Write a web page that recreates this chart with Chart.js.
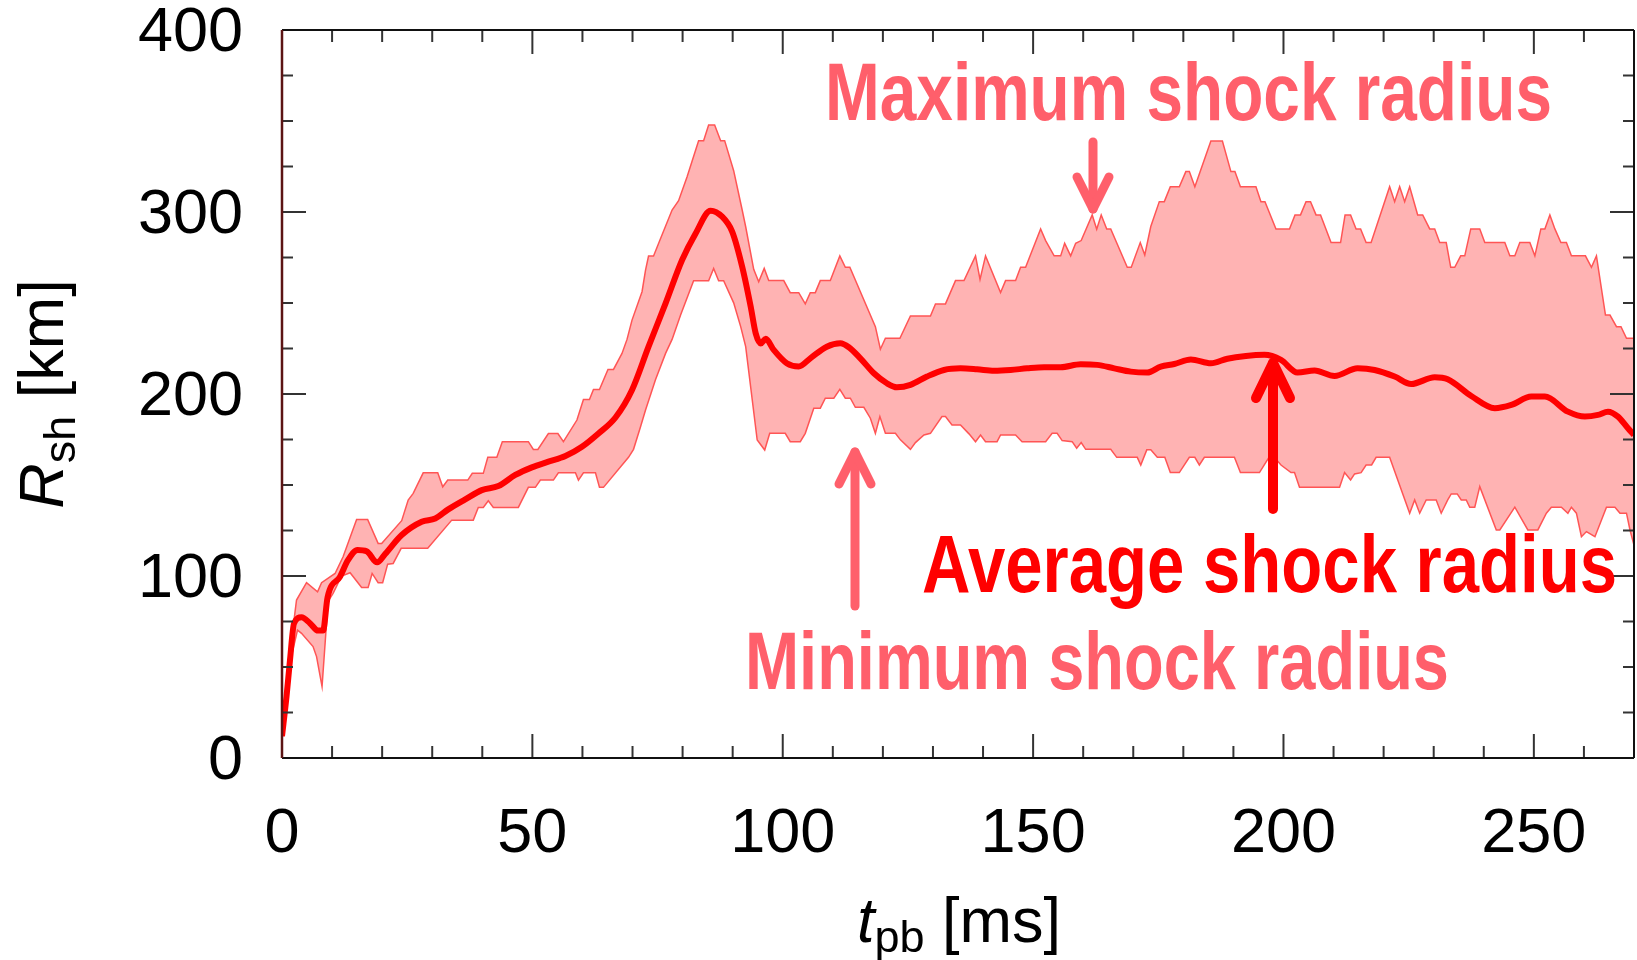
<!DOCTYPE html>
<html>
<head>
<meta charset="utf-8">
<script src="https://cdn.jsdelivr.net/npm/chart.js@4.4.0/dist/chart.umd.min.js"></script>
<style>
  html, body { margin: 0; padding: 0; background: #fff; }
  canvas { display: block; }
</style>
</head>
<body>
<canvas id="shock" width="1637" height="960"></canvas>
<script>
// shock radius [km] against post-bounce time [ms]
var tMax = [0.2, 1.5, 2.5, 2.9, 4.9, 7.1, 7.9, 10.6, 12.2, 14.9, 17.1, 19.2, 19.9, 23.9, 25.2, 26.2, 28.2, 31.1, 32.1, 33.1,
  37.1, 38.0, 40.2, 41.1, 42.9, 44.0, 49.2, 50.2, 51.1, 53.2, 55.1, 56.2, 58.9, 60.2, 61.4, 62.2, 63.4, 65.1, 66.2, 67.9,
  68.9, 69.9, 71.9, 72.6, 73.2, 74.2, 75.2, 77.9, 79.2, 80.9, 83.2, 84.2, 85.2, 86.4, 87.6, 88.4, 90.2, 91.9, 92.6, 94.2,
  95.2, 96.3, 97.2, 100.2, 101.5, 103.2, 104.5, 105.5, 106.5, 107.5, 109.5, 111.4, 112.5, 113.4, 118.5, 119.5, 120.5, 123.4, 125.5, 129.5,
  130.5, 132.5, 134.5, 136.2, 138.5, 139.4, 140.5, 143.5, 144.5, 146.5, 147.5, 148.5, 151.5, 152.5, 154.2, 155.5, 156.3, 157.5, 158.5, 159.6,
  161.8, 162.7, 163.6, 164.7, 165.5, 168.8, 169.6, 171.4, 172.3, 173.5, 175.2, 176.2, 177.4, 179.2, 180.5, 181.2, 182.3, 185.5, 187.8, 189.5,
  190.3, 191.4, 194.5, 195.5, 196.3, 198.5, 201.2, 202.3, 203.4, 204.5, 205.4, 206.5, 207.4, 209.5, 211.4, 212.3, 213.4, 214.5, 215.4, 216.5,
  217.5, 221.2, 222.2, 223.2, 224.2, 225.2, 226.8, 227.8, 229.2, 230.2, 231.2, 232.5, 233.4, 234.2, 235.4, 236.2, 237.4, 239.2, 240.2, 244.2,
  245.2, 246.2, 247.2, 249.2, 250.2, 251.4, 252.2, 253.2, 254.2, 255.4, 256.5, 257.5, 260.3, 261.5, 262.5, 264.3, 265.2, 266.5, 267.4, 268.5, 270];
var rMax = [12, 50, 78, 86.8, 96.3, 91.3, 96.3, 101.4, 110.6, 131.1, 131.1, 117.9, 117.9, 130.4, 141.7, 145.4, 156.7, 156.7, 149.0, 152.7,
  152.7, 156.4, 156.4, 165.2, 165.2, 173.8, 173.8, 169.5, 169.5, 178.3, 178.3, 173.8, 185.7, 197.0, 197.0, 202.5, 202.5, 213.5, 213.5, 222.3,
  230.0, 240.6, 256.2, 268.1, 275.8, 275.8, 282.7, 301.1, 306.2, 319.4, 339.2, 339.2, 347.8, 347.8, 339.2, 339.2, 322.7, 301.1, 291.9, 268.5,
  261.7, 269.0, 262.3, 262.3, 255.7, 255.7, 249.5, 255.7, 255.7, 262.3, 262.3, 275.9, 269.6, 269.6, 237.0, 224.6, 230.6, 230.6, 242.9, 242.9,
  249.5, 249.5, 262.3, 262.3, 275.9, 263.0, 275.9, 255.7, 262.3, 262.3, 269.6, 269.6, 290.7, 284.3, 275.9, 275.9, 282.8, 275.9, 282.8, 284.3,
  298.4, 290.5, 298.4, 290.7, 290.7, 269.6, 269.6, 283.2, 276.4, 292.0, 305.7, 305.7, 313.9, 313.9, 322.2, 322.2, 313.9, 339.0, 339.0, 322.2,
  322.2, 313.9, 313.9, 305.7, 305.7, 290.7, 290.7, 298.4, 298.4, 305.7, 305.7, 298.4, 298.4, 283.2, 283.2, 298.4, 298.4, 290.7, 290.7, 283.2,
  283.2, 313.9, 305.7, 313.9, 305.7, 313.9, 298.4, 298.4, 290.7, 290.7, 283.2, 283.2, 269.6, 269.6, 275.9, 275.9, 290.7, 290.7, 283.2, 283.2,
  275.9, 275.9, 283.2, 283.2, 275.9, 290.7, 290.7, 298.4, 290.7, 283.2, 283.2, 275.9, 275.9, 269.6, 275.9, 243.4, 243.4, 237.0, 237.0, 230.6, 230.6];

var tMin = [0.2, 1.8, 3.1, 3.9, 6.2, 6.9, 8.0, 9.2, 10.2, 11.9, 13.6, 15.9, 17.2, 18.0, 19.2, 20.1, 21.1, 22.2, 23.8, 29.1,
  33.9, 38.2, 39.2, 40.2, 41.2, 42.2, 47.2, 49.2, 50.6, 51.6, 54.2, 55.2, 58.6, 59.2, 60.2, 62.6, 63.4, 64.2, 69.2, 70.2,
  71.6, 72.6, 74.6, 76.6, 77.9, 79.6, 82.2, 85.2, 86.2, 87.2, 88.2, 90.2, 91.6, 92.6, 94.9, 96.4, 97.4, 100.5, 101.5, 103.5,
  104.5, 106.2, 107.5, 108.5, 110.2, 111.4, 112.5, 113.5, 114.5, 116.2, 117.5, 118.5, 119.4, 120.5, 122.5, 123.5, 125.5, 126.5, 128.2, 129.5,
  131.8, 132.5, 133.8, 135.5, 137.2, 138.5, 139.5, 140.5, 142.8, 143.5, 146.5, 147.8, 152.5, 153.8, 154.8, 155.8, 157.8, 158.7, 159.6, 160.5,
  165.5, 166.7, 170.8, 171.5, 172.7, 173.5, 174.8, 176.3, 177.4, 179.2, 181.2, 182.3, 183.2, 184.2, 190.2, 191.4, 195.2, 197.2, 198.2, 199.5,
  201.5, 202.2, 203.2, 211.2, 212.2, 213.4, 214.2, 215.5, 216.5, 217.6, 218.5, 221.2, 225.2, 226.2, 227.2, 228.5, 230.5, 231.5, 232.8, 233.5,
  234.7, 235.5, 236.5, 237.2, 238.2, 239.2, 242.5, 243.2, 246.2, 248.8, 250.8, 252.5, 253.5, 255.5, 256.8, 257.5, 258.5, 259.5, 260.5, 262.2,
  264.5, 266.2, 267.2, 268.5, 269.2, 270];
var rMin = [12, 55, 70.3, 68.5, 61.2, 55.7, 39.2, 86.0, 90.5, 100.0, 101.8, 93.7, 93.7, 101.4, 96.3, 96.3, 106.5, 106.9, 115.2, 115.2,
  130.7, 130.7, 137.7, 137.7, 141.3, 137.7, 137.7, 148.7, 148.7, 152.7, 152.7, 156.7, 156.7, 152.7, 156.7, 156.7, 148.7, 148.7, 165.2, 169.6,
  182.0, 191.2, 208.0, 222.3, 230.0, 243.4, 262.2, 262.2, 269.0, 262.2, 262.2, 250.1, 237.0, 226.0, 174.7, 169.2, 178.4, 178.4, 173.8, 173.8,
  178.4, 192.2, 192.2, 197.7, 197.7, 202.6, 197.7, 197.7, 192.7, 192.7, 186.7, 178.4, 187.6, 178.4, 178.4, 174.8, 169.6, 173.3, 177.5, 178.4,
  187.6, 187.6, 183.0, 183.0, 178.1, 173.8, 177.5, 173.8, 173.8, 177.5, 177.5, 173.8, 173.8, 178.4, 178.4, 174.4, 173.8, 170.2, 173.3, 169.6,
  169.6, 165.2, 165.2, 161.0, 169.3, 169.3, 165.2, 165.2, 156.8, 156.8, 165.2, 165.2, 161.0, 165.2, 165.2, 156.8, 156.8, 165.6, 165.2, 161.0,
  156.8, 156.8, 148.8, 148.8, 156.8, 152.8, 156.1, 156.8, 161.0, 161.0, 165.2, 165.2, 134.5, 141.8, 134.5, 141.8, 141.8, 134.5, 141.8, 145.1,
  145.1, 141.8, 141.8, 137.8, 137.8, 149.1, 125.3, 125.3, 137.8, 125.3, 125.3, 134.5, 137.8, 137.8, 134.5, 137.8, 134.5, 121.6, 124.4, 121.6,
  137.8, 137.8, 134.5, 134.5, 125.3, 117];

var tAvg = [0, 0.9, 1.6, 2.4, 3.9, 5.6, 7.2, 8.2, 9.1, 11.6, 13.2, 15.1, 16.9, 19.0, 20.6, 23.9, 27.9, 30.6, 33.2, 36.6,
  39.9, 43.2, 46.6, 49.9, 53.2, 56.6, 59.9, 63.2, 66.6, 69.9, 73.2, 76.6, 79.9, 82.6, 85.6, 87.9, 89.9, 91.9, 93.6, 94.6,
  95.6, 96.6, 98.2, 100.8, 103.2, 105.5, 108.8, 111.5, 113.2, 115.5, 118.2, 120.8, 122.8, 125.5, 128.8, 132.2, 135.5, 138.8, 142.2, 145.5,
  148.8, 152.2, 155.5, 159.5, 162.8, 166.2, 169.5, 172.8, 175.5, 178.2, 181.5, 185.5, 188.8, 192.5, 196.2, 199.5, 202.8, 206.2, 210.2, 214.8,
  218.2, 222.2, 225.5, 230.2, 232.8, 237.5, 242.2, 245.5, 249.5, 252.2, 256.8, 260.2, 262.8, 264.8, 266.8, 268.8, 270];
var rAvg = [12, 33.7, 53.9, 74.0, 77.3, 74.0, 70.0, 70.0, 88.3, 99.7, 108.8, 114.3, 113.6, 107.5, 112.1, 122.5, 129.8, 131.6, 136.6, 142.1,
  147.2, 149.4, 155.5, 159.7, 162.8, 165.9, 171.0, 178.3, 187.1, 202.2, 226.0, 249.8, 273.6, 288.2, 300.7, 297.4, 289.2, 269.9, 248.0, 233.3,
  227.8, 230.3, 224.2, 216.9, 215.1, 219.6, 226.0, 227.9, 225.7, 219.6, 211.4, 205.9, 203.7, 205.0, 209.6, 213.2, 214.1, 213.6, 212.8, 213.2,
  214.1, 214.7, 214.7, 216.3, 216.0, 214.1, 212.3, 211.8, 215.1, 216.5, 219.0, 216.9, 219.4, 220.9, 221.5, 218.7, 211.8, 212.9, 209.9, 214.1,
  213.2, 209.6, 205.5, 209.2, 208.1, 198.9, 192.2, 194.0, 198.6, 198.6, 190.3, 187.6, 188.5, 190.3, 187.6, 181.2, 177.5];

var xTicks = [0, 50, 100, 150, 200, 250];
var yTicks = [0, 100, 200, 300, 400];

var pink = '#ff5f6b';
var FONT = '"Liberation Sans", Arial, Helvetica, sans-serif';

function pairs(xs, ys) {
  return xs.map(function (x, i) { return { x: x, y: ys[i] }; });
}

function seg(ctx, x1, y1, x2, y2) {
  ctx.beginPath();
  ctx.moveTo(x1, y1);
  ctx.lineTo(x2, y2);
  ctx.stroke();
}

// bold, horizontally squeezed label (the figure uses a condensed face)
function squeezed(ctx, text, left, base, width, size, color) {
  ctx.save();
  ctx.font = 'bold ' + size + 'px ' + FONT;
  var w = ctx.measureText(text).width;
  ctx.translate(left, base);
  ctx.scale(width / w, 1);
  ctx.fillStyle = color;
  ctx.textAlign = 'left';
  ctx.textBaseline = 'alphabetic';
  ctx.fillText(text, 0, 0);
  ctx.restore();
}

function arrow(ctx, x, tail, tip, dx, dy, color, lw) {
  var dir = tip > tail ? -1 : 1;
  ctx.save();
  ctx.strokeStyle = color;
  ctx.lineWidth = lw;
  ctx.lineCap = 'round';
  ctx.lineJoin = 'round';
  seg(ctx, x, tail, x, tip);
  ctx.beginPath();
  ctx.moveTo(x - dx, tip + dir * dy);
  ctx.lineTo(x, tip);
  ctx.lineTo(x + dx, tip + dir * dy);
  ctx.stroke();
  ctx.restore();
}

// text pieces: [string, style, size, baseline shift]
function pieces(ctx, parts) {
  var total = 0;
  parts.forEach(function (p) {
    ctx.font = p[1] + ' ' + p[2] + 'px ' + FONT;
    p.w = ctx.measureText(p[0]).width;
    total += p.w;
  });
  var x = -total / 2;
  parts.forEach(function (p) {
    ctx.font = p[1] + ' ' + p[2] + 'px ' + FONT;
    ctx.fillText(p[0], x, p[3]);
    x += p.w;
  });
}

var frame = {
  id: 'frame',
  afterDatasetsDraw: function (chart) {
    var ctx = chart.ctx, a = chart.chartArea;
    var sx = chart.scales.x, sy = chart.scales.y;
    ctx.save();
    ctx.strokeStyle = '#333';
    ctx.lineWidth = 2;
    for (var t = 10; t < 270; t += 10) {
      var px = sx.getPixelForValue(t);
      var len = t % 50 === 0 ? 24 : 12;
      seg(ctx, px, a.bottom, px, a.bottom - len);
      seg(ctx, px, a.top, px, a.top + len);
    }
    for (var r = 25; r < 400; r += 25) {
      var py = sy.getPixelForValue(r);
      var l2 = r % 100 === 0 ? 24 : 11;
      seg(ctx, a.left, py, a.left + l2, py);
      seg(ctx, a.right, py, a.right - l2, py);
    }
    ctx.strokeStyle = '#111';
    ctx.lineWidth = 2;
    seg(ctx, a.left, a.top, a.right, a.top);
    seg(ctx, a.right, a.top, a.right, a.bottom);
    seg(ctx, a.left, a.bottom, a.right, a.bottom);
    ctx.strokeStyle = '#5c1414';
    ctx.lineWidth = 2.5;
    seg(ctx, a.left, a.top, a.left, a.bottom);
    ctx.restore();

    squeezed(ctx, 'Maximum shock radius', 825, 120, 727, 82, pink);
    squeezed(ctx, 'Average shock radius', 922, 592, 695, 82, '#ff0000');
    squeezed(ctx, 'Minimum shock radius', 745, 689, 704, 82, pink);

    arrow(ctx, 1093, 142, 209, 16, 32, pink, 9);
    arrow(ctx, 855, 606, 452, 16, 32, pink, 9);
    arrow(ctx, 1273, 509, 363, 17, 35, '#ff0000', 10);
  },
  afterDraw: function (chart) {
    var ctx = chart.ctx;
    ctx.save();
    ctx.fillStyle = '#000';
    ctx.textAlign = 'left';
    ctx.textBaseline = 'alphabetic';
    ctx.translate(63, 394);
    ctx.rotate(-Math.PI / 2);
    pieces(ctx, [['R', 'italic', 63, 0], ['sh', 'normal', 45, 12], [' [km]', 'normal', 63, 0]]);
    ctx.restore();

    ctx.save();
    ctx.fillStyle = '#000';
    ctx.textAlign = 'left';
    ctx.textBaseline = 'alphabetic';
    ctx.translate(959, 942);
    pieces(ctx, [['t', 'italic', 63, 0], ['pb', 'normal', 45, 10], [' [ms]', 'normal', 63, 0]]);
    ctx.restore();
  }
};

var tickFont = { family: FONT, size: 63, lineHeight: 1.2 };

function noPad(s) {
  s.paddingTop = 0;
  s.paddingBottom = 0;
  s.paddingLeft = 0;
  s.paddingRight = 0;
}

new Chart(document.getElementById('shock').getContext('2d'), {
  type: 'line',
  data: {
    datasets: [
      {
        label: 'Maximum shock radius',
        data: pairs(tMax, rMax),
        borderColor: '#ff5555',
        borderWidth: 1.5,
        backgroundColor: '#ffb3b3',
        fill: '+1',
        pointRadius: 0,
        tension: 0,
        order: 2
      },
      {
        label: 'Minimum shock radius',
        data: pairs(tMin, rMin),
        borderColor: '#ff5555',
        borderWidth: 1.5,
        fill: false,
        pointRadius: 0,
        tension: 0,
        order: 1
      },
      {
        label: 'Average shock radius',
        data: pairs(tAvg, rAvg),
        borderColor: '#ff0000',
        borderWidth: 6,
        fill: false,
        pointRadius: 0,
        cubicInterpolationMode: 'monotone',
        order: 0
      }
    ]
  },
  options: {
    responsive: false,
    animation: false,
    devicePixelRatio: 1,
    layout: { padding: { top: 30, right: 3, left: 0, bottom: 0 } },
    plugins: { legend: { display: false }, tooltip: { enabled: false } },
    scales: {
      x: {
        type: 'linear',
        min: 0,
        max: 270,
        grid: { display: false, drawTicks: false },
        border: { display: false },
        ticks: { font: tickFont, color: '#000', padding: 39, maxRotation: 0, autoSkip: false },
        afterBuildTicks: function (s) { s.ticks = xTicks.map(function (v) { return { value: v }; }); },
        afterFit: function (s) { s.height = 202; noPad(s); }
      },
      y: {
        type: 'linear',
        min: 0,
        max: 400,
        grid: { display: false, drawTicks: false },
        border: { display: false },
        ticks: { font: tickFont, color: '#000', padding: 39, labelOffset: 4, autoSkip: false },
        afterBuildTicks: function (s) { s.ticks = yTicks.map(function (v) { return { value: v }; }); },
        afterFit: function (s) { s.width = 282; noPad(s); }
      }
    }
  },
  plugins: [frame]
});
</script>
</body>
</html>
